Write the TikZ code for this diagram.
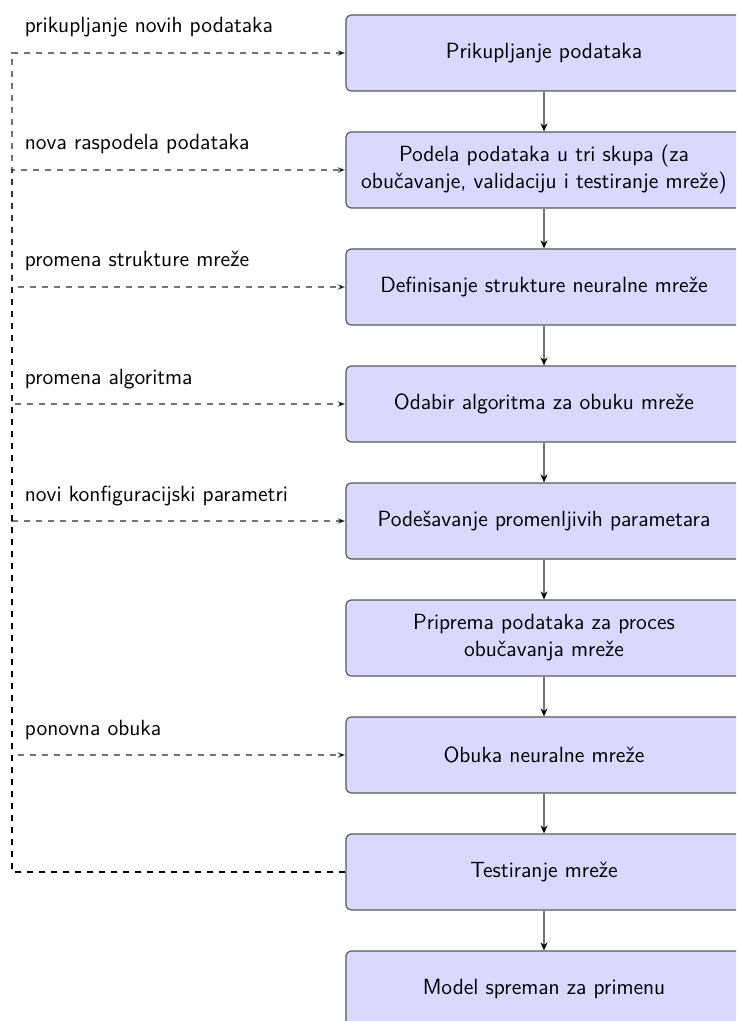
\documentclass[tikz,border=0pt]{standalone}
\usetikzlibrary{arrows.meta}
\begin{document}
\begin{tikzpicture}[x=0.5pt,y=-0.5pt,
  txt/.style={font=\fontsize{11}{13.5}\selectfont\sffamily},
  stepbox/.style={txt, draw=black!65, line width=0.6pt, fill=blue!15,
    rounded corners=2.5pt, minimum width=198pt, minimum height=38pt,
    align=center, inner sep=2pt},
  flow/.style={draw=black!55, line width=0.6pt,
    -{Stealth[black,length=4pt,width=3.5pt]}},
  feedback/.style={draw=black, draw opacity=0.55, line width=0.6pt, dashed,
    -{Stealth[length=4pt,width=3pt]}},
  looplabel/.style={txt, anchor=base west, inner sep=0pt}]
\useasboundingbox (0,0) rectangle (736,1021);
\clip (0,0) rectangle (736,1021);

% process steps
\node[stepbox] (s1) at (544,53)  {Prikupljanje podataka};
\node[stepbox] (s2) at (544,170) {Podela podataka u tri skupa (za\\obučavanje, validaciju i testiranje mreže)};
\node[stepbox] (s3) at (544,287) {Definisanje strukture neuralne mreže};
\node[stepbox] (s4) at (544,404) {Odabir algoritma za obuku mreže};
\node[stepbox] (s5) at (544,521) {Podešavanje promenljivih parametara};
\node[stepbox] (s6) at (544,638) {Priprema podataka za proces\\obučavanja mreže};
\node[stepbox] (s7) at (544,755) {Obuka neuralne mreže};
\node[stepbox] (s8) at (544,872) {Testiranje mreže};
\node[stepbox] (s9) at (544,989) {Model spreman za primenu};

% main flow
\foreach \a/\b in {s1/s2,s2/s3,s3/s4,s4/s5,s5/s6,s6/s7,s7/s8,s8/s9}
  \draw[flow] (\a.south) -- (\b.north);

% feedback rail on the left; shared stretches overlap and get darker
\coordinate (rail) at (12,0);
\foreach \t in {s1,s2,s3,s4,s5,s7}
  \draw[feedback] (s8.west) -- (s8.west -| rail) -- (\t.west -| rail) -- (\t.west);

% feedback labels
\node[looplabel] (l1) at (24.5,33)  {prikupljanje novih podataka};
\node[looplabel] (l2) at (24.5,150) {nova raspodela podataka};
\node[looplabel] (l3) at (24.5,267) {promena strukture mreže};
\node[looplabel] (l4) at (24.5,384) {promena algoritma};
\node[looplabel] (l5) at (24.5,501) {novi konfiguracijski parametri};
\node[looplabel] (l7) at (24.5,735) {ponovna obuka};
\end{tikzpicture}
\end{document}
